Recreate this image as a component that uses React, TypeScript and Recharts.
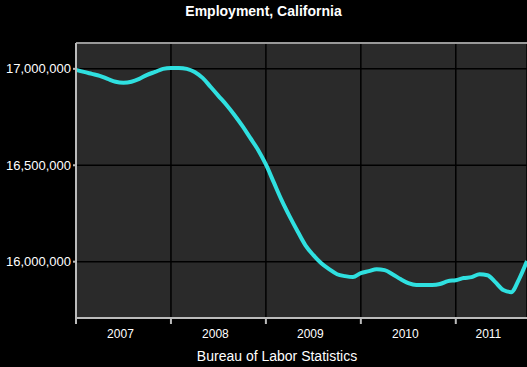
import { CartesianGrid, Line, LineChart, ReferenceLine, XAxis, YAxis } from 'recharts'

// monthly employment, Jan 2007 .. Oct 2011
const employment = [
  16995000, 16984000, 16974000, 16964000, 16948000, 16933000, 16928000, 16933000,
  16948000, 16969000, 16984000, 17000000, 17005000, 17005000, 17000000, 16984000,
  16953000, 16907000, 16860000, 16814000, 16762000, 16705000, 16643000, 16581000,
  16504000, 16411000, 16318000, 16235000, 16158000, 16085000, 16034000, 15992000,
  15961000, 15935000, 15925000, 15920000, 15941000, 15951000, 15961000, 15956000,
  15935000, 15910000, 15889000, 15879000, 15879000, 15879000, 15884000, 15899000,
  15904000, 15915000, 15920000, 15935000, 15930000, 15894000, 15853000, 15842000,
  15910000, 16003000,
]
const years = ['2007', '2008', '2009', '2010', '2011']
const yearStarts = [0, 12, 24, 36, 48]
const yTicks = [16000000, 16500000, 17000000]

const yMin = 15708000
const yMax = 17134000
const lastIndex = employment.length - 1

const chartData = employment.map((value, index) => ({ month: index, value }))

const W = 527
const H = 367
const LEFT = 76
const RIGHT = 0
const FONT = "Arial, 'Liberation Sans', sans-serif"

function YearTick(props: any) {
  const { x, y, payload } = props
  const start = payload.value as number
  const end = Math.min(start + 12, lastIndex)
  const pxPerMonth = (W - LEFT - RIGHT) / lastIndex
  const cx = x + ((end - start) / 2) * pxPerMonth - 3
  const idx = yearStarts.indexOf(start)
  return (
    <text x={cx} y={y + 12} fill="#ffffff" fontSize={12} textAnchor="middle" fontFamily={FONT}>
      {years[idx]}
    </text>
  )
}

export default function App() {
  return (
    <div style={{ position: 'absolute', left: 0, top: 0, width: W, height: H, background: '#000' }}>
      <div
        style={{
          position: 'absolute', top: 3, left: 0, width: W, textAlign: 'center',
          color: '#fff', fontFamily: FONT, fontWeight: 'bold', fontSize: 14,
        }}
      >
        Employment, California
      </div>
      <LineChart width={W} height={H} data={chartData} margin={{ top: 43, right: RIGHT, bottom: 29, left: 0 }}>
        <CartesianGrid fill="#2a2a2a" stroke="#000" strokeWidth={1.5} vertical horizontal />
        <XAxis
          dataKey="month"
          type="number"
          domain={[0, lastIndex]}
          ticks={yearStarts}
          tick={<YearTick />}
          stroke="#bbbbbb"
          strokeWidth={2}
          tickSize={6}
          height={20}
          interval={0}
        />
        <YAxis
          type="number"
          domain={[yMin, yMax]}
          ticks={yTicks}
          width={LEFT}
          stroke="#bbbbbb"
          strokeWidth={2}
          tickSize={3}
          tick={{ fill: '#ffffff', fontSize: 13, fontFamily: FONT }}
          tickFormatter={(v: number) => v.toLocaleString('en-US')}
          allowDataOverflow
        />
        <ReferenceLine y={yMax} stroke="#999999" strokeWidth={2} />
        <Line
          type="monotone"
          dataKey="value"
          stroke="#2fe0e0"
          strokeWidth={4}
          dot={false}
          isAnimationActive={false}
        />
      </LineChart>
      <div
        style={{
          position: 'absolute', top: 348, left: 177, width: 200, textAlign: 'center',
          color: '#fff', fontFamily: FONT, fontSize: 14,
        }}
      >
        Bureau of Labor Statistics
      </div>
    </div>
  )
}
